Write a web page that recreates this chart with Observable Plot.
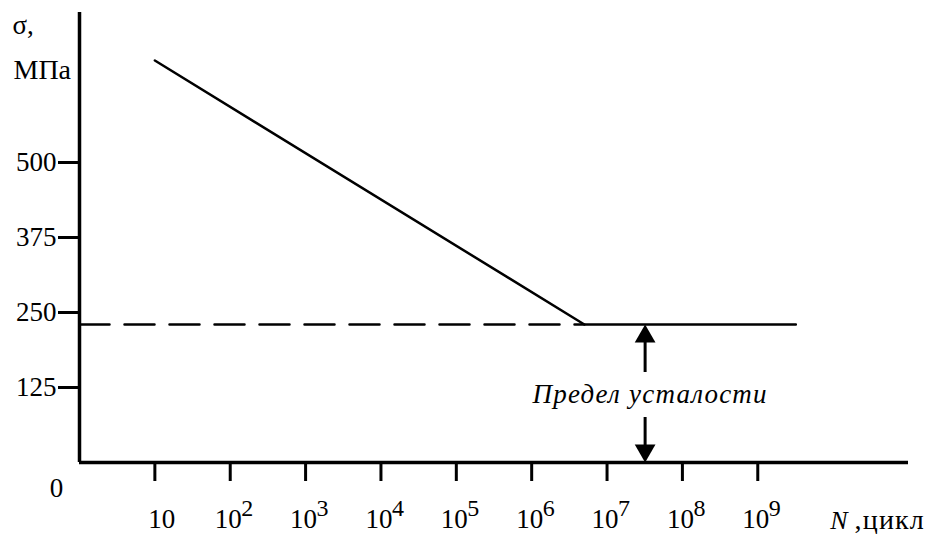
<!DOCTYPE html>
<html>
<head>
<meta charset="utf-8">
<script src="https://cdn.jsdelivr.net/npm/d3@7"></script>
<script src="https://cdn.jsdelivr.net/npm/@observablehq/plot@0.6"></script>
<style>
  html, body { margin: 0; padding: 0; background: #fff; }
  #chart svg { display: block; }
  #chart svg, #chart svg text { font-family: 'Liberation Serif', 'Times New Roman', serif; }
</style>
</head>
<body>
<div id="chart"></div>
<script>
// Fatigue (S–N) curve: stress amplitude vs number of cycles (log scale)
const cycles = [10, 5e6, 3.2e9];          // N, cycles
const stress = [670, 230, 230];           // σ, MPa
const enduranceLimit = 230;               // σ at the knee, MPa
const kneeCycles = 5e6;
const arrowCycles = 3.2e7;                // where the limit is dimensioned
const arrowShaftEnd = [150, 75];          // shaft ends near the caption, MPa
const limitLabel = "Предел усталости";
const limitLabelY = 113;

const yTicks = [125, 250, 375, 500];
const xExponents = [1, 2, 3, 4, 5, 6, 7, 8, 9];
const yUnitLines = ["σ,", "МПа"];
const xUnit = ["N", ",цикл"];

const curve = cycles.map((n, i) => ({n, s: stress[i]}));
const dashed = [{n: 1, s: enduranceLimit}, {n: kneeCycles, s: enduranceLimit}];
const xTicks = xExponents.map(e => 10 ** e);
const supTicks = xExponents.filter(e => e > 1).map(e => ({n: 10 ** e, e: String(e)}));

const font = "'Liberation Serif', 'Times New Roman', serif";

const chart = Plot.plot({
  width: 928,
  height: 534,
  marginLeft: 79,
  marginRight: 20,
  marginTop: 12,
  marginBottom: 72,
  x: {type: "log", domain: [1, 1e11], axis: null},
  y: {domain: [0, 750], axis: null},
  style: `font-family: ${font}; font-size: 27px; color: #000; background: #fff;`,
  marks: [
    // axes lines
    Plot.ruleX([1], {stroke: "#000", strokeWidth: 3.5}),
    Plot.ruleY([0], {stroke: "#000", strokeWidth: 3.5}),
    // y ticks with labels
    Plot.axisY(yTicks, {tickSize: 21, tickPadding: 2, strokeWidth: 3, fontSize: 27, label: null}),
    Plot.text(["0"], {x: 1, y: 0, text: d => d, dx: -23, dy: 26, fontSize: 27}),
    // x ticks, labels drawn separately as 10 with superscript exponent
    Plot.axisX(xTicks, {tickSize: 19, strokeWidth: 3, tickFormat: () => "", label: null}),
    Plot.text(xTicks.slice(0, 1), {x: d => d, y: 0, text: () => "10", dx: 7, dy: 65, lineAnchor: "bottom", fontSize: 27}),
    Plot.text(xTicks.slice(1), {x: d => d, y: 0, text: () => "10", dx: -2, dy: 65, lineAnchor: "bottom", fontSize: 27}),
    Plot.text(supTicks, {x: "n", y: 0, text: "e", dx: 11, dy: 53, lineAnchor: "bottom", textAnchor: "start", fontSize: 24}),
    // axis units
    Plot.text([yUnitLines[0]], {frameAnchor: "top-left", text: d => d, dx: -67, dy: 21, lineAnchor: "bottom", textAnchor: "start", fontSize: 27}),
    Plot.text([yUnitLines[1]], {frameAnchor: "top-left", text: d => d, dx: -66, dy: 66, lineAnchor: "bottom", textAnchor: "start", fontSize: 28}),
    Plot.text([xUnit[0]], {frameAnchor: "bottom-right", text: d => d, dx: -61, dy: 66, lineAnchor: "bottom", textAnchor: "end", fontStyle: "italic", fontSize: 26}),
    Plot.text([xUnit[1]], {frameAnchor: "bottom-right", text: d => d, dx: -54, dy: 66, lineAnchor: "bottom", textAnchor: "start", fontSize: 28}),
    // endurance-limit level carried back to the stress axis
    Plot.line(dashed, {x: "n", y: "s", stroke: "#000", strokeWidth: 2.5, strokeDasharray: "30,15"}),
    // S–N curve
    Plot.line(curve, {x: "n", y: "s", stroke: "#000", strokeWidth: 2.5}),
    // dimension arrows for the endurance limit
    Plot.ruleX([arrowCycles], {y1: arrowShaftEnd[0], y2: enduranceLimit - 10, stroke: "#000", strokeWidth: 3}),
    Plot.ruleX([arrowCycles], {y1: arrowShaftEnd[1], y2: 10, stroke: "#000", strokeWidth: 3}),
    Plot.dot([enduranceLimit], {x: () => arrowCycles, y: d => d, symbol: "triangle", r: 7.7, fill: "#000", stroke: null, dy: 12}),
    Plot.dot([0], {x: () => arrowCycles, y: d => d, symbol: "triangle", r: 7.7, fill: "#000", stroke: null, dy: -12, rotate: 180}),
    Plot.text([limitLabel], {x: () => arrowCycles, y: () => limitLabelY, text: d => d, dx: 5, fontStyle: "italic", fontSize: 27})
  ]
});

// widen the spacing of the longer captions a little
const svg = d3.select(chart);
svg.selectAll("text")
  .filter(function () { return this.textContent === limitLabel; })
  .attr("letter-spacing", "1.2px");
svg.selectAll("text")
  .filter(function () { return this.textContent === xUnit[1]; })
  .attr("letter-spacing", "1.2px");

document.getElementById("chart").append(chart);
</script>
</body>
</html>
